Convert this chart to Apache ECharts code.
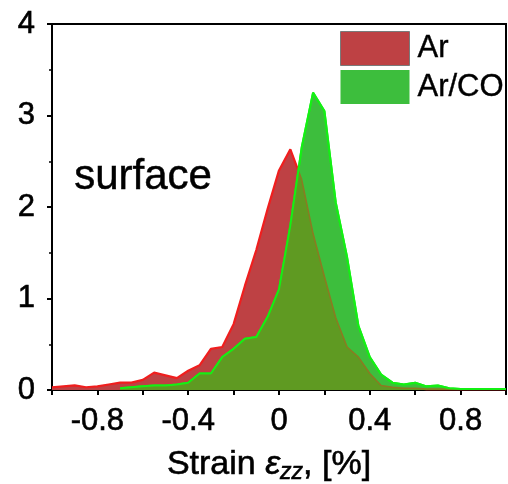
<!DOCTYPE html>
<html>
<head>
<meta charset="utf-8">
<script src="https://cdn.jsdelivr.net/npm/echarts@6/dist/echarts.min.js"></script>
<style>
html,body{margin:0;padding:0;background:#fff;}
#c{width:508px;height:484px;}
</style>
</head>
<body>
<div id="c"></div>
<script>
// strain bins (x, %)
var strain = [-1.00,-0.95,-0.90,-0.85,-0.80,-0.75,-0.70,-0.65,-0.60,-0.55,-0.50,-0.45,-0.40,-0.35,-0.30,-0.25,-0.20,-0.15,-0.10,-0.05,0.00,0.05,0.10,0.15,0.20,0.25,0.30,0.35,0.40,0.45,0.50,0.55,0.60,0.65,0.70,0.75,0.80,0.85,0.90,0.95,1.00];
// Ar distribution
var arValues = [0.03,0.04,0.05,0.03,0.04,0.06,0.08,0.08,0.11,0.19,0.16,0.13,0.21,0.27,0.45,0.47,0.72,1.14,1.53,1.98,2.40,2.63,2.30,1.71,1.24,0.79,0.47,0.36,0.18,0.05,0.03,0.02,0.02,0.01,0.01,0.01,0.01,0.01,0.01,0.01,0.01];
// Ar/CO distribution
var arcoValues = [null,null,null,null,null,null,0.02,0.03,0.04,0.05,0.05,0.06,0.08,0.18,0.18,0.36,0.45,0.56,0.58,0.80,1.10,1.80,2.65,3.25,3.05,2.05,1.45,0.70,0.36,0.17,0.08,0.06,0.08,0.04,0.05,0.02,0.01,0.01,0.01,0.01,0.01];
// region shared by both distributions (read from the olive area)
var overlapX = [-0.70,-0.65,-0.60,-0.55,-0.50,-0.45,-0.40,-0.35,-0.30,-0.25,-0.20,-0.15,-0.10,-0.05,0.00,0.05,0.085,0.10,0.15,0.20,0.25,0.30,0.35,0.40,0.45,0.50,0.55,0.60,0.65,0.70,0.75,0.80,0.85,0.90,0.95,1.00];
var overlapY = [0.02,0.03,0.04,0.05,0.05,0.06,0.08,0.18,0.18,0.36,0.45,0.56,0.58,0.80,1.10,1.80,2.40,2.30,1.71,1.24,0.79,0.47,0.36,0.18,0.05,0.03,0.02,0.02,0.01,0.01,0.01,0.01,0.01,0.01,0.01,0.01];
var seriesNames = ['Ar','Ar/CO'];
var xTickLabels = ['-0.8','-0.4','0','0.4','0.8'];
var yTickLabels = ['0','1','2','3','4'];

var FONT = '"Liberation Sans", Arial, sans-serif';
var HEAVY = {textBorderColor:'#000', textBorderWidth:0.6};
function pairs(xs, ys){ return xs.map(function(x,i){ return [x, ys[i]]; }); }
function ext(a,b){ var o={}; for(var k in a)o[k]=a[k]; for(var k2 in b)o[k2]=b[k2]; return o; }

var chart = echarts.init(document.getElementById('c'), null, {renderer:'canvas'});
chart.setOption({
  animation:false,
  backgroundColor:'#ffffff',
  grid:{left:52,right:2,top:24,bottom:94,containLabel:false,outerBoundsMode:'none',
        show:true,borderColor:'#000',borderWidth:2,backgroundColor:'transparent'},
  legend:{
    orient:'vertical', left:340, top:31, itemWidth:69, itemHeight:34, itemGap:4, padding:0,
    icon:'rect',
    textStyle:ext({fontFamily:FONT,fontSize:31,color:'#000',padding:[0,0,0,3]}, {textBorderColor:'#000',textBorderWidth:0.4}),
    data:[
      {name:seriesNames[0], itemStyle:{color:'#be4144',borderColor:'#7a7a7a',borderWidth:1}},
      {name:seriesNames[1], itemStyle:{color:'#3dbe3d',borderWidth:0}}
    ]
  },
  xAxis:{
    type:'value', min:-1, max:1, interval:0.2,
    axisLine:{show:true,onZero:false,lineStyle:{color:'#000',width:2}},
    axisTick:{show:true,inside:false,length:5,lineStyle:{color:'#000',width:2}},
    splitLine:{show:false},
    axisLabel:ext({fontFamily:FONT,fontSize:31,color:'#000',margin:16,
      formatter:function(v){
        var s = (Math.abs(v) < 1e-9) ? '0' : v.toFixed(1);
        return xTickLabels.indexOf(s) >= 0 ? s : '';
      }}, HEAVY),
    name:'Strain {e|ε}{s|zz}, [%]',
    nameLocation:'middle', nameGap:56,
    nameTextStyle:ext({fontFamily:FONT,fontSize:34,color:'#000',padding:[0,20,0,0],
      rich:{
        e:ext({fontFamily:FONT,fontSize:34,fontStyle:'italic',color:'#000'}, HEAVY),
        s:ext({fontFamily:FONT,fontSize:23,fontStyle:'italic',color:'#000',padding:[15,0,0,0]}, HEAVY)
      }}, HEAVY)
  },
  yAxis:{
    type:'value', min:0, max:4, interval:1,
    axisLine:{show:true,onZero:false,lineStyle:{color:'#000',width:2}},
    axisTick:{show:true,inside:false,length:5,lineStyle:{color:'#000',width:2}},
    minorTick:{show:true,splitNumber:2,length:3,lineStyle:{color:'#000',width:1.5}},
    splitLine:{show:false},
    axisLabel:ext({fontFamily:FONT,fontSize:31,color:'#000',margin:17,
      formatter:function(v){ var s=String(Math.round(v)); return yTickLabels.indexOf(s)>=0?s:''; }}, HEAVY)
  },
  series:[
    {name:seriesNames[0], type:'line', z:1, symbol:'none', data:pairs(strain, arValues),
     itemStyle:{color:'#be4144'}, lineStyle:{color:'#f01e1e',width:2.2},
     areaStyle:{color:'#be4144',opacity:1}},
    {name:seriesNames[1], type:'line', z:2, symbol:'none', data:pairs(strain, arcoValues),
     itemStyle:{color:'#3dbe3d'}, lineStyle:{color:'#14f014',width:2},
     areaStyle:{color:'#3dbe3d',opacity:1}},
    {name:'overlap', type:'line', z:3, symbol:'none', data:pairs(overlapX, overlapY),
     itemStyle:{color:'#5f9a22'}, lineStyle:{color:'#8c7a22',width:1.5},
     areaStyle:{color:'#5f9a22',opacity:1}},
    {name:'ArCOline', type:'line', z:4, symbol:'none', data:pairs(strain, arcoValues),
     itemStyle:{color:'#14f014'}, lineStyle:{color:'#14f014',width:2}}
  ],
  graphic:[
    {type:'text', left:74, top:156, style:{text:'surface', font:'42px '+FONT, fill:'#000', stroke:'#000', lineWidth:0.5}}
  ]
});
</script>
</body>
</html>
